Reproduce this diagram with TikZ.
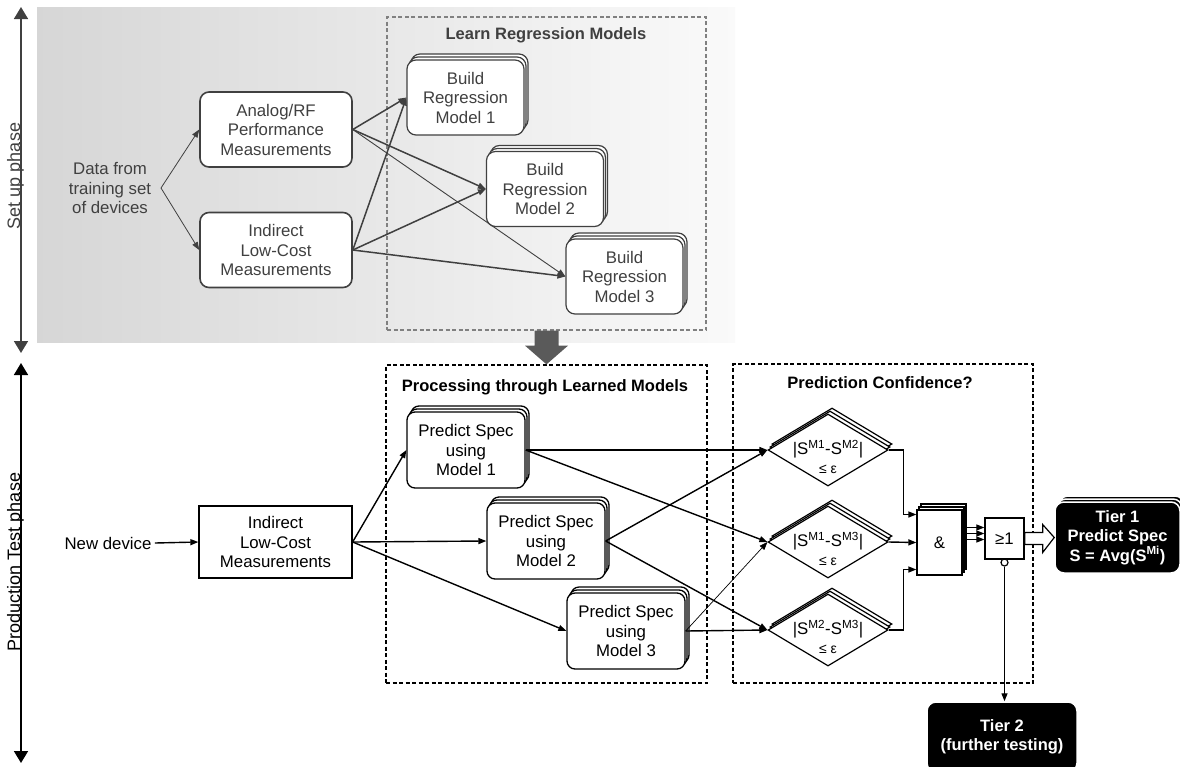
\documentclass[tikz,border=0pt]{standalone}
\usepackage{fontspec}
\setmainfont{Liberation Sans}
\usepackage{tikz}
\usetikzlibrary{calc}
\usetikzlibrary{shapes.geometric}
\usetikzlibrary{shadows}
\usetikzlibrary{arrows.meta}
\definecolor{dgrey}{HTML}{404040}
\definecolor{mgrey}{HTML}{5A5A5A}

\begin{document}
\begin{tikzpicture}[x=1pt, y=-1pt,
  txt/.style={font=\fontsize{16.8}{19.5}\selectfont, align=center},
  ttl/.style={font=\bfseries\fontsize{16.5}{19.5}\selectfont},
  stack/.style={copy shadow={shadow xshift=4pt, shadow yshift=6pt, #1},
                copy shadow={shadow xshift=2pt, shadow yshift=3pt, #1}},
  tbox/.style={txt, draw=dgrey, text=dgrey, fill=white, line width=1.6pt, rounded corners=9pt,
               minimum width=152pt, minimum height=75pt, inner sep=0pt},
  bbox/.style={tbox, minimum width=117pt, line width=1.2pt,
               stack={draw=dgrey, fill=white, line width=1.2pt}},
  pbox/.style={txt, draw, fill=white, line width=1.3pt, rounded corners=8pt,
               minimum width=118pt, minimum height=76pt, inner sep=0pt,
               stack={draw, fill=white, line width=1.3pt}},
  lbox/.style={txt, draw, line width=1.3pt, minimum width=153pt, minimum height=72pt, inner sep=0pt},
  cmp/.style={diamond, draw, fill=white, line width=1.2pt, aspect=1.67,
              minimum width=120pt, minimum height=72pt, inner sep=0pt,
              stack={draw, fill=white, line width=1.2pt}},
  gate/.style={txt, draw, fill=white, line width=1.3pt, inner sep=0pt},
  tier/.style={txt, font=\bfseries\fontsize{16.5}{19.5}\selectfont, text=white, fill=black,
               draw=white, line width=1.5pt, rounded corners=9pt, inner sep=0pt},
  dbox/.style={line width=1.3pt, dash pattern=on 4pt off 2.5pt, inner sep=0pt},
  tconn/.style={draw=dgrey, line width=1.5pt, -{Triangle[length=8pt, width=6pt]}},
  conn/.style={line width=1.4pt, -{Triangle[length=8pt, width=6pt]}},
  scalebar/.style={line width=1.6pt, {Triangle[length=12pt, width=14pt]}-{Triangle[length=12pt, width=14pt]}}]
\useasboundingbox (0,0) rectangle (1180,766);

% training part
\shade[left color=black!16, right color=black!2] (37,7) rectangle (735,342);
\coordinate (tt) at (21,7);
\coordinate (tb) at (21,353);
\draw[scalebar, dgrey] (tt) -- (tb);
\node[rotate=90, anchor=base, text=dgrey, font=\fontsize{18}{22}\selectfont] (lbltop) at (20,176) {Set up phase};

\node[dbox, draw=gray, minimum width=319pt, minimum height=313pt] (learn) at (546.5,173.5) {};
\node[ttl, text=dgrey] (learnttl) at (546,35) {Learn Regression Models};

\node[txt, text=dgrey] (data) at (110,188) {Data from\\training set\\of devices};
\coordinate (fork) at (161,188);
\node[tbox] (analog) at (276,129.5) {Analog/RF\\Performance\\Measurements};
\node[tbox] (indtop) at (276,250) {Indirect\\Low-Cost\\Measurements};
\node[bbox] (build1) at (465.5,97.5) {Build\\Regression\\Model 1};
\node[bbox] (build2) at (545,189) {Build\\Regression\\Model 2};
\node[bbox] (build3) at (624.5,276.5) {Build\\Regression\\Model 3};

\draw[tconn, line width=0.8pt] (fork) -- (analog.west);
\draw[tconn, line width=0.8pt] (fork) -- (indtop.west);
\draw[tconn] (analog.east) -- (build1.west);
\draw[tconn] (analog.east) -- (build2.west);
\draw[tconn, line width=0.9pt] (analog.east) -- (build3.west);
\foreach \t in {build1,build2,build3}
  \draw[tconn] (indtop.east) -- (\t.west);

% test part
\coordinate (bt) at (21,363);
\coordinate (bb) at (21,763);
\draw[scalebar] (bt) -- (bb);
\node[rotate=90, anchor=base, font=\fontsize{18}{22}\selectfont] (lblbot) at (20,562) {Production Test phase};

\node[dbox, draw, minimum width=321pt, minimum height=318pt] (proc) at (546.5,524) {};
\node[ttl] (procttl) at (545,387) {Processing through Learned Models};
\node[dbox, draw, minimum width=300pt, minimum height=319pt] (conf) at (883,523.5) {};
\node[ttl] (confttl) at (880,383) {Prediction Confidence?};

\fill[mgrey] ($(learn.south)+(-12,0)$) -- ($(learn.south)+(12,0)$) -- ++(0,15) -- ++(9.5,0)
  -- (proc.north) -- ($(learn.south)+(-21.5,15)$) -- ++(9.5,0) -- cycle;

\node[txt] (newdev) at (108,543) {New device};
\node[lbox] (indbot) at (275.5,542) {Indirect\\Low-Cost\\Measurements};
\node[pbox] (pred1) at (466,450) {Predict Spec\\using\\Model 1};
\node[pbox] (pred2) at (546,541) {Predict Spec\\using\\Model 2};
\node[pbox] (pred3) at (626,631) {Predict Spec\\using\\Model 3};

\node[cmp] (d1) at (828,450) {};
\node[cmp] (d2) at (828,542) {};
\node[cmp] (d3) at (828,630) {};
\node[txt] (d1t) at ($(d1)+(0,7)$) {|S\textsuperscript{M1}-S\textsuperscript{M2}|\\[-1pt]{\fontsize{14}{16}\selectfont ≤ ε}};
\node[txt] (d2t) at ($(d2)+(0,7)$) {|S\textsuperscript{M1}-S\textsuperscript{M3}|\\[-1pt]{\fontsize{14}{16}\selectfont ≤ ε}};
\node[txt] (d3t) at ($(d3)+(0,7)$) {|S\textsuperscript{M2}-S\textsuperscript{M3}|\\[-1pt]{\fontsize{14}{16}\selectfont ≤ ε}};

\node[gate, minimum width=45pt, minimum height=65pt, stack={draw, fill=white, line width=1.3pt}] (and) at (939.5,542.5) {\&};
\node[gate, minimum width=39pt, minimum height=41pt] (orb) at (1004.5,538.5) {≥1};
\node[circle, draw, fill=white, line width=1.2pt, minimum size=7pt, inner sep=0pt] (neg) at (1004.5,562.5) {};

\node[tier, minimum width=125pt, minimum height=71pt, stack={fill=black, draw=white, line width=1.5pt}] (tier1) at (1117.5,537.5) {Tier 1\\Predict Spec\\S = Avg(S\textsuperscript{Mi})};
\node[tier, minimum width=150pt, minimum height=70pt] (tier2) at (1002,737) {Tier 2\\(further testing)};

\draw[conn] (newdev.east) -- (indbot.west);
\foreach \t in {pred1,pred2,pred3}
  \draw[conn] (indbot.east) -- (\t.west);
\draw[conn] (pred1.east) -- (d1.west);
\draw[conn] (pred1.east) -- (d2.west);
\draw[conn] (pred2.east) -- (d1.west);
\draw[conn] (pred2.east) -- (d3.west);
\draw[conn, line width=0.7pt] (pred3.east) -- (d2.west);
\draw[conn] (pred3.east) -- (d3.west);

\coordinate (ain1) at ($(and.west)+(0,-28)$);
\coordinate (ain3) at ($(and.west)+(0,27)$);
\draw[conn] (d1.east) -- ++(15,0) |- (ain1);
\draw[conn] (d2.east) -- (and.west);
\draw[conn] (d3.east) -- ++(15,0) |- (ain3);
\foreach \i/\dy in {1/-11,2/-5,3/1} {
  \coordinate (oin\i) at ($(orb.west)+(0,\dy)$);
  \draw[conn, line width=1.2pt] (and.east |- oin\i) -- (oin\i);
}
\draw[conn] (neg.south) -- (neg.south |- tier2.north);
\draw[line width=1.2pt, fill=white] ($(orb.east)+(0,-6)$) -- ++(18,0) -- ++(0,-8) -- (tier1.west)
  -- ($(orb.east)+(18,14)$) -- ++(0,-8) -- ($(orb.east)+(0,6)$) -- cycle; %hollow arrow
\end{tikzpicture}
\end{document}
